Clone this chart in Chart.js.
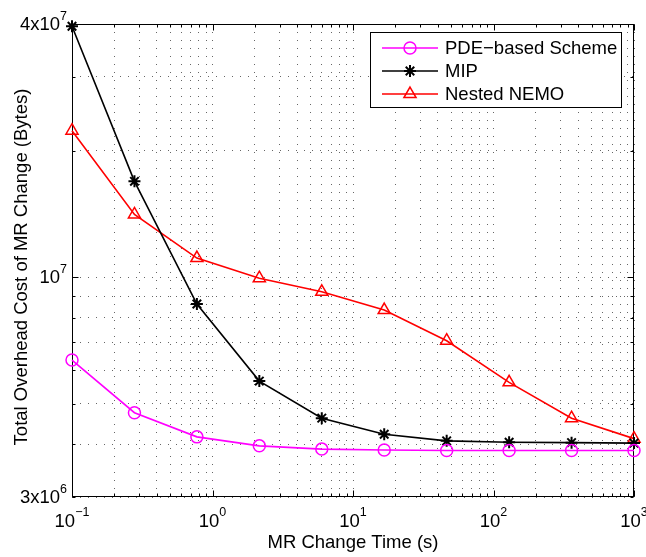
<!DOCTYPE html>
<html>
<head>
<meta charset="utf-8">
<script src="https://cdn.jsdelivr.net/npm/chart.js@4/dist/chart.umd.min.js"></script>
<style>
  html, body { margin: 0; padding: 0; background: #fff; }
  #wrap { width: 646px; height: 557px; }
</style>
</head>
<body>
<div id="wrap"><canvas id="c" width="646" height="557"></canvas></div>
<script>
// MR change time (s), log-spaced from 0.1 to 1000
const changeTimes = [0.1, 0.2783, 0.7743, 2.154, 5.995, 16.68, 46.42, 129.2, 359.4, 1000];

// Total overhead cost of MR change (bytes)
const pdeCost  = [6.35e6, 4.76e6, 4.17e6, 3.97e6, 3.90e6, 3.88e6, 3.87e6, 3.87e6, 3.87e6, 3.87e6];
const mipCost  = [3.95e7, 1.69e7, 8.63e6, 5.66e6, 4.62e6, 4.23e6, 4.08e6, 4.05e6, 4.04e6, 4.03e6];
const nemoCost = [2.23e7, 1.41e7, 1.11e7, 9.94e6, 9.23e6, 8.35e6, 7.06e6, 5.62e6, 4.62e6, 4.13e6];

const seriesNames = ['PDE\u2212based Scheme', 'MIP', 'Nested NEMO'];

// Grid / tick positions (major + minor decades)
const xGridValues = [0.1, 0.2, 0.3, 0.4, 0.5, 0.6, 0.7, 0.8, 0.9,
                     1, 2, 3, 4, 5, 6, 7, 8, 9,
                     10, 20, 30, 40, 50, 60, 70, 80, 90,
                     100, 200, 300, 400, 500, 600, 700, 800, 900, 1000];
const yGridValues = [3e6, 4e6, 5e6, 6e6, 7e6, 8e6, 9e6, 1e7, 2e7, 3e7, 4e7];

// Labelled ticks: base text + superscript exponent
const xLabelValues = [0.1, 1, 10, 100, 1000];
const xLabelBases  = ['10', '10', '10', '10', '10'];
const xLabelExps   = ['\u22121', '0', '1', '2', '3'];
const yLabelValues = [3e6, 1e7, 4e7];
const yLabelBases  = ['3x10', '10', '4x10'];
const yLabelExps   = ['6', '7', '7'];
const yMajorValues = [1e7];

const xTitle = 'MR Change Time (s)';
const yTitle = 'Total Overhead Cost of MR Change (Bytes)';

const FONT = '"Liberation Sans", Arial, Helvetica, sans-serif';
const MAIN_PX = 18.5;
const SUP_PX = 12.5;
const COLORS = ['#ff00ff', '#000000', '#ff0000'];
const STYLES = ['circle', 'star', 'triangle'];
const RADII = [6, 6, 7];
const MARKER_W = [1.5, 2, 1.5];

function toPoints(vals) {
  return changeTimes.map((t, i) => ({ x: t, y: vals[i] }));
}

function makeDataset(i, vals) {
  return {
    label: seriesNames[i],
    data: toPoints(vals),
    borderColor: COLORS[i],
    backgroundColor: COLORS[i],
    borderWidth: 1.6,
    pointStyle: STYLES[i],
    pointRadius: RADII[i],
    pointHoverRadius: RADII[i],
    pointBorderColor: COLORS[i],
    pointBackgroundColor: 'rgba(0,0,0,0)',
    pointBorderWidth: MARKER_W[i],
    tension: 0,
    clip: false
  };
}

function drawMarker(ctx, style, x, y, r) {
  ctx.beginPath();
  if (style === 'circle') {
    ctx.arc(x, y, r, 0, Math.PI * 2);
  } else if (style === 'star') {
    for (let k = 0; k < 4; k++) {
      const a = k * Math.PI / 4;
      ctx.moveTo(x + Math.cos(a) * r, y + Math.sin(a) * r);
      ctx.lineTo(x - Math.cos(a) * r, y - Math.sin(a) * r);
    }
  } else if (style === 'triangle') {
    let rad = 0;
    ctx.moveTo(x + Math.sin(rad) * r, y - Math.cos(rad) * r);
    rad += 2 * Math.PI / 3;
    ctx.lineTo(x + Math.sin(rad) * r, y - Math.cos(rad) * r);
    rad += 2 * Math.PI / 3;
    ctx.lineTo(x + Math.sin(rad) * r, y - Math.cos(rad) * r);
    ctx.closePath();
  }
  ctx.stroke();
}

// Text with a raised exponent; align = 'center' | 'right'
function drawPowerLabel(ctx, base, exp, x, baseline, align, raise) {
  ctx.font = MAIN_PX + 'px ' + FONT;
  const wb = ctx.measureText(base).width;
  ctx.font = SUP_PX + 'px ' + FONT;
  const we = ctx.measureText(exp).width;
  const total = wb + we;
  const left = align === 'center' ? x - total / 2 : x - total;
  ctx.textAlign = 'left';
  ctx.textBaseline = 'alphabetic';
  ctx.font = MAIN_PX + 'px ' + FONT;
  ctx.fillText(base, left, baseline);
  ctx.font = SUP_PX + 'px ' + FONT;
  ctx.fillText(exp, left + wb, baseline - raise);
}

const axesDecor = {
  id: 'axesDecor',
  beforeDatasetsDraw(chart) {
    const { ctx, chartArea: a, scales: { x, y } } = chart;
    const L = Math.round(a.left) + 0.5, R = Math.round(a.right) - 0.5;
    const T = Math.round(a.top) + 0.5, B = Math.round(a.bottom) - 0.5;
    ctx.save();
    ctx.strokeStyle = '#000';
    ctx.lineWidth = 1;
    ctx.beginPath();
    xGridValues.forEach(v => {
      const px = Math.round(x.getPixelForValue(v)) + 0.5;
      const len = xLabelValues.includes(v) ? 6 : 3;
      ctx.moveTo(px, B); ctx.lineTo(px, B - len);
      ctx.moveTo(px, T); ctx.lineTo(px, T + len);
    });
    yGridValues.forEach(v => {
      const py = Math.round(y.getPixelForValue(v)) + 0.5;
      const len = yMajorValues.includes(v) ? 6 : 3;
      ctx.moveTo(L, py); ctx.lineTo(L + len, py);
      ctx.moveTo(R, py); ctx.lineTo(R - len, py);
    });
    ctx.stroke();
    ctx.strokeRect(L, T, R - L, B - T);
    ctx.restore();
  },
  afterDraw(chart) {
    const { ctx, chartArea: a, scales: { x, y } } = chart;
    ctx.save();
    ctx.fillStyle = '#000';

    // x tick labels
    xLabelValues.forEach((v, i) => {
      drawPowerLabel(ctx, xLabelBases[i], xLabelExps[i], x.getPixelForValue(v), a.bottom + 30, 'center', 11);
    });
    // y tick labels
    yLabelValues.forEach((v, i) => {
      drawPowerLabel(ctx, yLabelBases[i], yLabelExps[i], a.left - 5, y.getPixelForValue(v) + 6, 'right', 10);
    });

    // axis titles
    ctx.font = MAIN_PX + 'px ' + FONT;
    ctx.textAlign = 'center';
    ctx.textBaseline = 'alphabetic';
    ctx.fillText(xTitle, (a.left + a.right) / 2, a.bottom + 51);
    ctx.save();
    ctx.translate(27, 267);
    ctx.rotate(-Math.PI / 2);
    ctx.fillText(yTitle, 0, 0);
    ctx.restore();

    // legend box
    const bx = 370.5, by = 32.5, bw = 251, bh = 75;
    ctx.fillStyle = '#fff';
    ctx.fillRect(bx, by, bw, bh);
    ctx.strokeStyle = '#000';
    ctx.lineWidth = 1;
    ctx.strokeRect(bx, by, bw, bh);
    const rows = [48, 71, 94];
    seriesNames.forEach((name, i) => {
      const ry = rows[i];
      ctx.strokeStyle = COLORS[i];
      ctx.lineWidth = 1.6;
      ctx.beginPath();
      ctx.moveTo(382, ry); ctx.lineTo(438, ry);
      ctx.stroke();
      ctx.lineWidth = MARKER_W[i];
      drawMarker(ctx, STYLES[i], 410, ry, RADII[i]);
      ctx.fillStyle = '#000';
      ctx.font = MAIN_PX + 'px ' + FONT;
      ctx.textAlign = 'left';
      ctx.textBaseline = 'middle';
      ctx.fillText(name, 445, ry + 1);
    });
    ctx.restore();
  }
};

const gridStyle = {
  color: 'rgba(0,0,0,0.6)',
  lineWidth: 1,
  drawTicks: false
};

new Chart(document.getElementById('c'), {
  type: 'line',
  data: {
    datasets: [
      makeDataset(0, pdeCost),
      makeDataset(1, mipCost),
      makeDataset(2, nemoCost)
    ]
  },
  options: {
    responsive: false,
    animation: false,
    events: [],
    layout: { padding: { left: 72, top: 24, right: 12, bottom: 60 } },
    plugins: { legend: { display: false }, tooltip: { enabled: false } },
    scales: {
      x: {
        type: 'logarithmic',
        min: 0.1,
        max: 1000,
        afterBuildTicks: (s) => { s.ticks = xGridValues.map(v => ({ value: v })); },
        ticks: { display: false, autoSkip: false },
        grid: gridStyle,
        border: { display: false, dash: [1, 7] }
      },
      y: {
        type: 'logarithmic',
        min: 3e6,
        max: 4e7,
        afterBuildTicks: (s) => { s.ticks = yGridValues.map(v => ({ value: v })); },
        ticks: { display: false, autoSkip: false },
        grid: gridStyle,
        border: { display: false, dash: [1, 7] }
      }
    }
  },
  plugins: [axesDecor]
});
</script>
</body>
</html>
